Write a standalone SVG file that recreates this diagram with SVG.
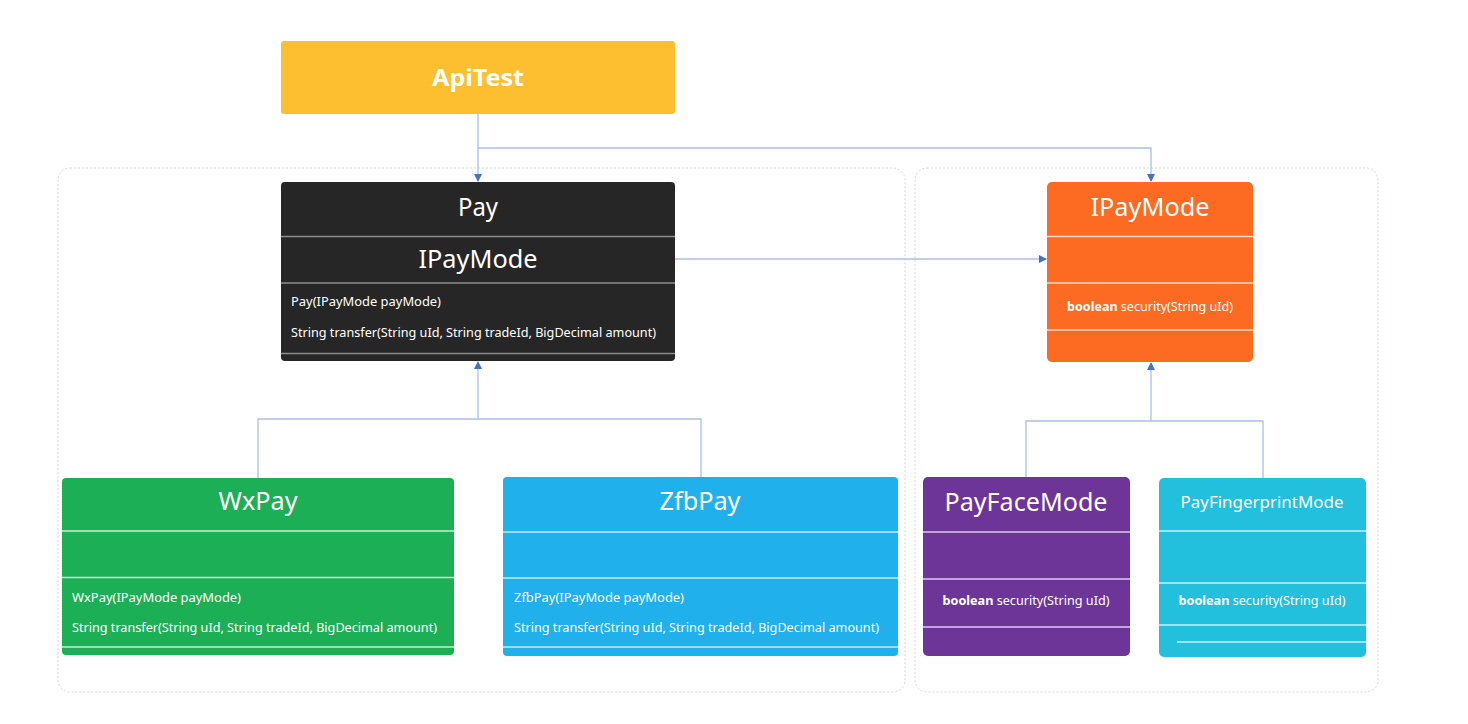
<svg xmlns="http://www.w3.org/2000/svg" width="1468" height="724" viewBox="0 0 1468 724">
<defs>
<style>
text{font-family:"Noto Sans","Open Sans","Liberation Sans",sans-serif;fill:#fff}
.t{font-size:26px;text-anchor:middle}
.m{font-size:13px}
.c{text-anchor:middle}
.sep{stroke:#fff;stroke-opacity:0.75;stroke-width:1.3}
.sepd{stroke:#8c8c8c;stroke-width:1.5}
.grp{fill:none;stroke:#d3d7dd;stroke-width:1;stroke-dasharray:2 2}
.con{fill:none;stroke:#a9bfe6;stroke-width:1.3}
</style>
<marker id="ar" markerWidth="8" markerHeight="8" refX="7" refY="4" orient="auto" markerUnits="userSpaceOnUse">
<path d="M0,0 L8,4 L0,8 Z" fill="#4472c4"/>
</marker>
</defs>
<rect width="1468" height="724" fill="#fff"/>
<g id="containers">
<rect class="grp" x="58" y="168" width="847" height="524" rx="12"/>
<rect class="grp" x="915" y="168" width="463" height="524" rx="12"/>
</g>
<g id="connectors">
<path class="con" d="M478,114 V181" marker-end="url(#ar)"/>
<path class="con" d="M478,148 H1151 V181" marker-end="url(#ar)"/>
<path class="con" d="M675,259 H1046" marker-end="url(#ar)"/>
<path class="con" d="M258,478 V419 H701 V477"/>
<path class="con" d="M478,419 V362" marker-end="url(#ar)"/>
<path class="con" d="M1026,477 V421 H1263 V478"/>
<path class="con" d="M1151,421 V363" marker-end="url(#ar)"/>
</g>
<g id="ApiTest">
<rect x="281" y="41" width="394" height="73" rx="3" fill="#fdbf2f"/>
<text x="478" y="86" font-size="24" font-weight="bold" text-anchor="middle" textLength="92" lengthAdjust="spacingAndGlyphs">ApiTest</text>
</g>
<g id="Pay">
<rect x="281" y="182" width="394" height="179" rx="4" fill="#262626"/>
<text class="t" x="478" y="216" textLength="40" lengthAdjust="spacingAndGlyphs">Pay</text>
<line class="sepd" x1="281" y1="236.5" x2="675" y2="236.5"/>
<text class="t" x="478" y="268" textLength="119" lengthAdjust="spacingAndGlyphs">IPayMode</text>
<line class="sepd" x1="281" y1="283" x2="675" y2="283"/>
<text class="m" x="291" y="306" textLength="150" lengthAdjust="spacingAndGlyphs">Pay(IPayMode payMode)</text>
<text class="m" x="291" y="337" textLength="365" lengthAdjust="spacingAndGlyphs">String transfer(String uId, String tradeId, BigDecimal amount)</text>
<line class="sepd" x1="281" y1="353.5" x2="675" y2="353.5"/>
</g>
<g id="IPayMode">
<rect x="1047" y="182" width="206" height="180" rx="5" fill="#fd6a22"/>
<text class="t" x="1150" y="216" textLength="119" lengthAdjust="spacingAndGlyphs">IPayMode</text>
<line class="sep" x1="1047" y1="236.5" x2="1253" y2="236.5"/>
<line class="sep" x1="1047" y1="283" x2="1253" y2="283"/>
<text class="m c" x="1150" y="311" textLength="166" lengthAdjust="spacingAndGlyphs"><tspan font-weight="bold">boolean</tspan> security(String uId)</text>
<line class="sep" x1="1047" y1="330" x2="1253" y2="330"/>
</g>
<g id="WxPay">
<rect x="62" y="478" width="392" height="177" rx="4" fill="#1daf55"/>
<text class="t" x="258" y="510" textLength="79" lengthAdjust="spacingAndGlyphs">WxPay</text>
<line class="sep" x1="62" y1="531" x2="454" y2="531"/>
<line class="sep" x1="62" y1="577.5" x2="454" y2="577.5"/>
<text class="m" x="72" y="602" textLength="169" lengthAdjust="spacingAndGlyphs">WxPay(IPayMode payMode)</text>
<text class="m" x="72" y="632" textLength="365" lengthAdjust="spacingAndGlyphs">String transfer(String uId, String tradeId, BigDecimal amount)</text>
<line class="sep" x1="62" y1="647" x2="454" y2="647"/>
</g>
<g id="ZfbPay">
<rect x="503" y="477" width="395" height="179" rx="4" fill="#20b0ec"/>
<text class="t" x="700" y="510" textLength="81" lengthAdjust="spacingAndGlyphs">ZfbPay</text>
<line class="sep" x1="503" y1="532" x2="898" y2="532"/>
<line class="sep" x1="503" y1="578" x2="898" y2="578"/>
<text class="m" x="514" y="602" textLength="170" lengthAdjust="spacingAndGlyphs">ZfbPay(IPayMode payMode)</text>
<text class="m" x="514" y="632" textLength="365" lengthAdjust="spacingAndGlyphs">String transfer(String uId, String tradeId, BigDecimal amount)</text>
<line class="sep" x1="503" y1="647" x2="898" y2="647"/>
</g>
<g id="PayFaceMode">
<rect x="923" y="477" width="207" height="179" rx="5" fill="#6e3599"/>
<text class="t" x="1026" y="511" textLength="163" lengthAdjust="spacingAndGlyphs">PayFaceMode</text>
<line class="sep" x1="923" y1="532" x2="1130" y2="532"/>
<line class="sep" x1="923" y1="579" x2="1130" y2="579"/>
<text class="m c" x="1026" y="605" textLength="167" lengthAdjust="spacingAndGlyphs"><tspan font-weight="bold">boolean</tspan> security(String uId)</text>
<line class="sep" x1="923" y1="627" x2="1130" y2="627"/>
</g>
<g id="PayFingerprintMode">
<rect x="1159" y="478" width="207" height="179" rx="5" fill="#22c0dd"/>
<text x="1262" y="508" font-size="17" text-anchor="middle" textLength="163" lengthAdjust="spacingAndGlyphs">PayFingerprintMode</text>
<line class="sep" x1="1159" y1="531" x2="1366" y2="531"/>
<line class="sep" x1="1159" y1="583" x2="1366" y2="583"/>
<text class="m c" x="1262" y="605" textLength="167" lengthAdjust="spacingAndGlyphs"><tspan font-weight="bold">boolean</tspan> security(String uId)</text>
<line class="sep" x1="1159" y1="625" x2="1366" y2="625"/>
<line class="sep" x1="1177" y1="642" x2="1366" y2="642"/>
</g>
</svg>
